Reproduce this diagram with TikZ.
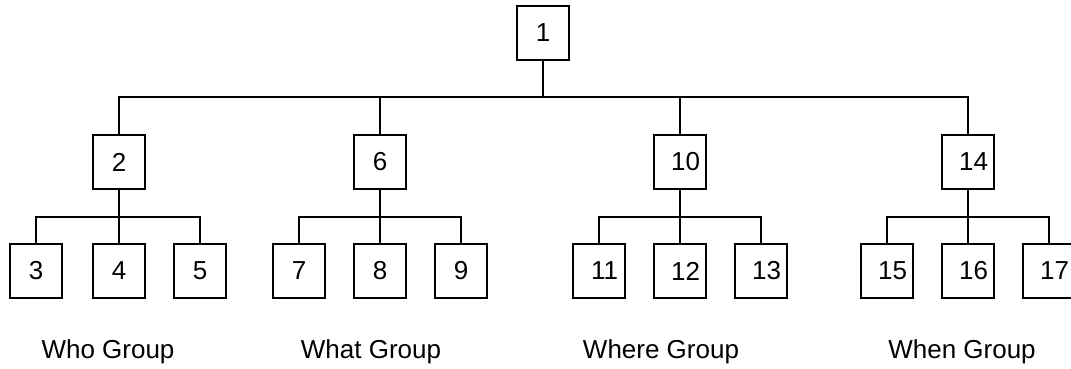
\documentclass[tikz,border=0pt]{standalone}
\usepackage{fontspec}
\setmainfont{Liberation Sans}
\usetikzlibrary{positioning}
\tikzset{
	box/.style={draw, line width=2pt, minimum width=52pt, minimum height=54pt, inner sep=0pt, font=\fontsize{26}{30}\selectfont},
	wide/.style={box, execute at begin node={\hspace*{11pt}}},
	group/.style={anchor=base, inner sep=0pt, font=\fontsize{26}{30}\selectfont},
	link/.style={line width=2pt}
}

\begin{document}
\begin{tikzpicture}[x=1pt, y=-1pt]
		%%%%% START %%%%%
		\fill[white] (0, 0) rectangle (1071, 368);
		\useasboundingbox (0, 0) rectangle (1071, 368);
		
		\node[box] (n1) at (543, 33) {1};
		\coordinate (top) at (543, 97);
		
		\node[box] (n2) at (119, 162) {2};
		\node[box] (n6) at (380, 162) {6};
		\node[wide] (n10) at (680, 162) {10};
		\node[wide] (n14) at (968, 162) {14};
		
		\node[box] (n3) at (36, 271) {3};
		\node[box] (n4) at (119, 271) {4};
		\node[box] (n5) at (200, 271) {5};
		\node[box] (n7) at (299, 271) {7};
		\node[box] (n8) at (380, 271) {8};
		\node[box] (n9) at (461, 271) {9};
		\node[wide] (n11) at (599, 271) {11};
		\node[wide] (n12) at (680, 271) {12};
		\node[wide] (n13) at (761, 271) {13};
		\node[wide] (n15) at (887, 271) {15};
		\node[wide] (n16) at (968, 271) {16};
		\node[wide] (n17) at (1049, 271) {17};
		
		\draw[link] (n1) -- (top);
		\draw[link] (n2) |- (top) -| (n14);
		\draw[link] (n6) -- (n6 |- top);
		\draw[link] (n10) -- (n10 |- top);
		
		\coordinate (b2) at (119, 217);
		\coordinate (b6) at (380, 217);
		\coordinate (b10) at (680, 217);
		\coordinate (b14) at (968, 217);
		
		\draw[link] (n2) -- (b2);
		\draw[link] (n3) |- (b2) -| (n5);
		\draw[link] (n4) -- (b2);
		
		\draw[link] (n6) -- (b6);
		\draw[link] (n7) |- (b6) -| (n9);
		\draw[link] (n8) -- (b6);
		
		\draw[link] (n10) -- (b10);
		\draw[link] (n11) |- (b10) -| (n13);
		\draw[link] (n12) -- (b10);
		
		\draw[link] (n14) -- (b14);
		\draw[link] (n15) |- (b14) -| (n17);
		\draw[link] (n16) -- (b14);
		
		\node[group] (who) at (108, 358) {Who Group};
		\node[group] (what) at (371, 358) {What Group};
		\node[group] (where) at (661, 358) {Where Group};
		\node[group] (when) at (962, 358) {When Group};
		%%%%% END %%%%%
\end{tikzpicture}
\end{document}
